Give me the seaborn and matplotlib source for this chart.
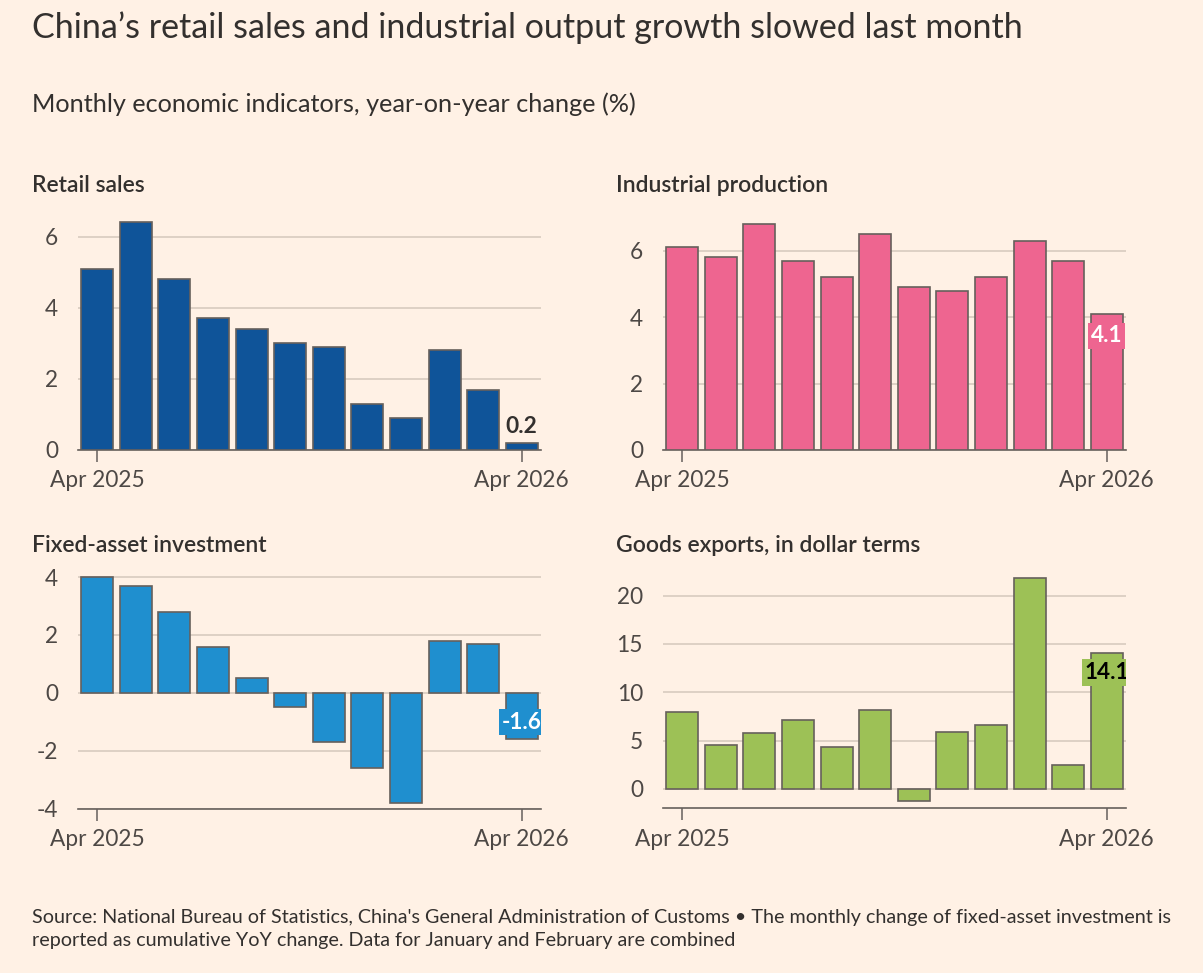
import numpy as np
import pandas as pd
import seaborn as sns
import matplotlib
matplotlib.use("Agg")
import matplotlib.pyplot as plt

# ---------------- data ----------------
months = ["Apr 2025", "May 2025", "Jun 2025", "Jul 2025", "Aug 2025", "Sep 2025",
          "Oct 2025", "Nov 2025", "Dec 2025", "Jan-Feb 2026", "Mar 2026", "Apr 2026"]
retail_sales = [5.1, 6.4, 4.8, 3.7, 3.4, 3.0, 2.9, 1.3, 0.9, 2.8, 1.7, 0.2]
industrial_production = [6.1, 5.8, 6.8, 5.7, 5.2, 6.5, 4.9, 4.8, 5.2, 6.3, 5.7, 4.1]
fixed_asset_investment = [4.0, 3.7, 2.8, 1.6, 0.5, -0.5, -1.7, -2.6, -3.8, 1.8, 1.7, -1.6]
goods_exports = [8.0, 4.6, 5.8, 7.1, 4.3, 8.2, -1.2, 5.9, 6.6, 21.8, 2.5, 14.1]

panel_titles = ["Retail sales", "Industrial production",
                "Fixed-asset investment", "Goods exports, in dollar terms"]
title = "China\u2019s retail sales and industrial output growth slowed last month"
subtitle = "Monthly economic indicators, year-on-year change (%)"
footer = ("Source: National Bureau of Statistics, China's General Administration of Customs \u2022 "
          "The monthly change of fixed-asset investment is\n"
          "reported as cumulative YoY change. Data for January and February are combined")

# ---------------- style ----------------
BG = "#FFF1E5"
TEXT = "#33302E"
TICK = "#4D4845"
GRID = "#D4C8BC"
AXIS = "#66605C"

sns.set_theme(style="white")
plt.rcParams["font.family"] = ["Lato", "DejaVu Sans"]

W, H = 1203, 973
fig = plt.figure(figsize=(W / 100, H / 100), dpi=100, facecolor=BG)
renderer = fig.canvas.get_renderer()


def width_px(s, size, **kw):
    t = fig.text(0, 0, s, fontsize=size, **kw)
    w = t.get_window_extent(renderer).width
    t.remove()
    return w


def fitted(s, target, **kw):
    return 14 * target / width_px(s, 14, **kw)


fig.text(32 / W, 1 - 28 / H, title, fontsize=fitted(title, 991), color=TEXT,
         ha="left", va="center")
fig.text(32 / W, 1 - 104 / H, subtitle, fontsize=fitted(subtitle, 607), color=TEXT,
         ha="left", va="center")
fig.text(32 / W, 1 - 929 / H, footer, fontsize=fitted(footer.split("\n")[0], 1143),
         color=TEXT, ha="left", va="center", linespacing=1.45)

tick_fs = fitted("Apr 2025", 95)
ptitle_fs = fitted("Retail sales", 113, fontweight="semibold")

panels = [
    dict(data=retail_sales, color="#0F5499", box=(78, 541), ybot=450, ppu=35.55,
         ylim=(0, 6.45), yticks=[0, 2, 4, 6], title_xy=(32, 186),
         lab=dict(dy=16, fc=None, tc=TEXT)),
    dict(data=industrial_production, color="#EE6590", box=(663, 1126), ybot=450, ppu=33.2,
         ylim=(0, 6.85), yticks=[0, 2, 4, 6], title_xy=(616, 186),
         lab=dict(dy=-22, fc="#EE6590", tc="white")),
    dict(data=fixed_asset_investment, color="#1F8FCF", box=(78, 541), ybot=808.7, ppu=28.96,
         ylim=(-4, 4.05), yticks=[-4, -2, 0, 2, 4], title_xy=(32, 545),
         lab=dict(dy=17, fc="#1F8FCF", tc="white")),
    dict(data=goods_exports, color="#9DC156", box=(663, 1126), ybot=808.3, ppu=9.665,
         ylim=(-2, 21.9), yticks=[0, 5, 10, 15, 20], title_xy=(616, 545),
         lab=dict(dy=-20, fc="#9DC156", tc="black")),
]

for p, ptitle in zip(panels, panel_titles):
    left, right = p["box"]
    y0, y1 = p["ylim"]
    hpx = (y1 - y0) * p["ppu"]
    ax = fig.add_axes([left / W, 1 - p["ybot"] / H, (right - left) / W, hpx / H])
    ax.set_facecolor(BG)
    df = pd.DataFrame({"month": months, "value": p["data"]})
    sns.barplot(data=df, x="month", y="value", order=months, color=p["color"],
                saturation=1, width=0.83, edgecolor=AXIS, linewidth=1.2, ax=ax, zorder=2)
    ax.set_xlim(-0.5, 11.5)
    ax.set_ylim(y0, y1)
    ax.set_xlabel("")
    ax.set_ylabel("")
    ax.set_yticks(p["yticks"])
    ax.set_yticklabels([f"{v:g}" for v in p["yticks"]])
    ax.set_xticks([0, 11])
    ax.set_xticklabels([months[0], months[-1]])
    for s in ["top", "right", "left"]:
        ax.spines[s].set_visible(False)
    ax.spines["bottom"].set_color(AXIS)
    ax.spines["bottom"].set_linewidth(1.2)
    ax.spines["bottom"].set_zorder(1.5)
    ax.set_axisbelow(True)
    ax.yaxis.grid(True, color=GRID, linewidth=1.1)
    ax.xaxis.grid(False)
    ax.tick_params(axis="y", length=0, pad=14.4, labelsize=tick_fs, labelcolor=TICK)
    ax.tick_params(axis="x", length=8.6, width=1.1, color=AXIS, pad=6,
                   labelsize=tick_fs, labelcolor=TICK, direction="out", bottom=True)
    tx, ty = p["title_xy"]
    fig.text(tx / W, 1 - ty / H, ptitle, fontsize=ptitle_fs, fontweight="semibold",
             color=TEXT, ha="left", va="center")
    last = p["data"][-1]
    lab = p["lab"]
    bbox = None
    if lab["fc"] is not None:
        bbox = dict(boxstyle="square,pad=0.12", fc=lab["fc"], ec="none")
    an = ax.annotate(f"{last:g}", xy=(11, last), xytext=(0, lab["dy"] * 0.72),
                     textcoords="offset points", ha="center", va="center",
                     fontsize=tick_fs, fontweight="bold", color=lab["tc"], bbox=bbox,
                     zorder=5, annotation_clip=False)
    an.set_clip_on(True)
    an.set_clip_box(ax.bbox)

fig.savefig("out.png", dpi=100, facecolor=BG)
